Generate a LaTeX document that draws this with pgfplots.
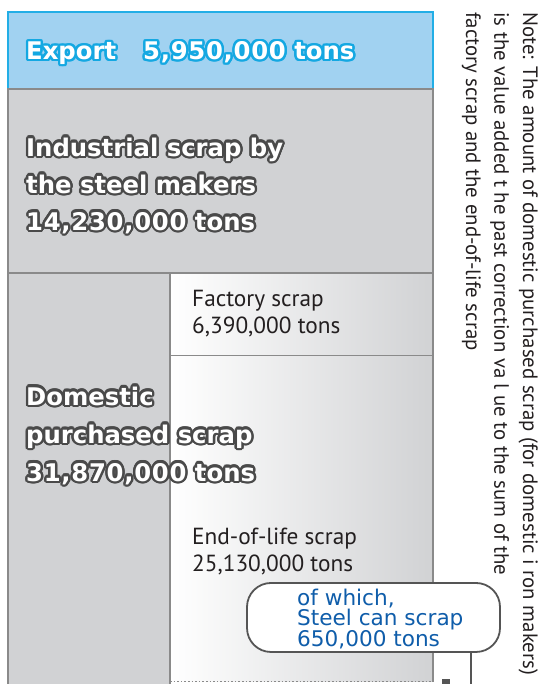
\documentclass[border=0pt]{standalone}
\usepackage{pgfplots}
\pgfplotsset{compat=1.18}
\usepackage{fontspec}
\setmainfont{PT Sans}
\newfontfamily\hd{DejaVu Sans}
\newfontfamily\hdn{DejaVu Sans}[LetterSpace=3]
\newfontfamily\cf{DejaVu Sans}
\definecolor{exportfill}{HTML}{A1D2F1}
\definecolor{exportline}{HTML}{22AEE6}
\definecolor{exportol}{HTML}{14A8E2}
\definecolor{greyfill}{HTML}{D1D2D4}
\definecolor{greyline}{HTML}{8A8A8A}
\definecolor{greyol}{HTML}{4A4A4A}
\definecolor{callline}{HTML}{555555}
\definecolor{bluetext}{HTML}{0F5DAA}
\definecolor{notetext}{HTML}{231F20}
\newcommand\ofs[4]{\rlap{\kern#1\raisebox{#2}{\textcolor{#3}{#4}}}}
\newcommand\ol[3]{%
\ofs{2.4pt}{0pt}{#1}{#3}\ofs{2.22pt}{0.92pt}{#1}{#3}\ofs{1.7pt}{1.7pt}{#1}{#3}\ofs{0.92pt}{2.22pt}{#1}{#3}%
\ofs{0pt}{2.4pt}{#1}{#3}\ofs{-0.92pt}{2.22pt}{#1}{#3}\ofs{-1.7pt}{1.7pt}{#1}{#3}\ofs{-2.22pt}{0.92pt}{#1}{#3}%
\ofs{-2.4pt}{0pt}{#1}{#3}\ofs{-2.22pt}{-0.92pt}{#1}{#3}\ofs{-1.7pt}{-1.7pt}{#1}{#3}\ofs{-0.92pt}{-2.22pt}{#1}{#3}%
\ofs{0pt}{-2.4pt}{#1}{#3}\ofs{0.92pt}{-2.22pt}{#1}{#3}\ofs{1.7pt}{-1.7pt}{#1}{#3}\ofs{2.22pt}{-0.92pt}{#1}{#3}%
\textcolor{#2}{#3}}
\begin{document}
\begin{tikzpicture}
\begin{axis}[scale only axis, width=539pt, height=684pt, at={(0,0)}, anchor=south west,
  xmin=0, xmax=539, ymin=-0.9266, ymax=51.892, y dir=reverse, hide axis]
% blocks (values in million tons, stacked from the top)
% Export 5.95
\addplot[fill=exportfill, draw=exportline, line width=1.8pt] coordinates {(8,0) (433,0) (433,5.95) (8,5.95)} -- cycle;
% Industrial scrap by the steel makers 14.23
\addplot[fill=greyfill, draw=greyline, line width=1.8pt] coordinates {(8,5.95) (433,5.95) (433,20.18) (8,20.18)} -- cycle;
% Domestic purchased scrap 31.87
\addplot[fill=greyfill, draw=greyline, line width=1.8pt] coordinates {(8,20.18) (170,20.18) (170,52.05) (8,52.05)} -- cycle;
% Factory scrap 6.39
\addplot[left color=white, right color=greyfill, draw=greyline, line width=1.8pt] coordinates {(170,20.18) (433,20.18) (433,26.57) (170,26.57)} -- cycle;
% End-of-life scrap 25.13
\addplot[left color=white, right color=greyfill, draw=none] coordinates {(170,26.57) (433,26.57) (433,51.70) (170,51.70)} -- cycle;
\addplot[draw=greyline, line width=1.8pt] coordinates {(170,26.57) (170,52.05)};
\addplot[draw=greyline, line width=1.8pt] coordinates {(433,26.57) (433,51.70)};
\addplot[draw=greyline, line width=1.6pt, dotted] coordinates {(170,51.70) (433,51.70)};
\addplot[draw=none, fill=callline] coordinates {(442,51.51) (450,51.51) (450,51.892) (442,51.892)} -- cycle;
% callout
\draw[callline, line width=1.8pt] (axis cs:471,49.42) -- (axis cs:471,51.892);
\draw[callline, line width=1.8pt, fill=white, rounded corners=24pt] (axis cs:247,44.09) rectangle (axis cs:500,49.42);
\node[anchor=west, align=left, inner sep=0pt, text=bluetext, font=\cf\fontsize{21.6}{20.8}\selectfont] at (axis cs:297,46.87) {of which,\\Steel can scrap\\650,000 tons};
% labels
\node[anchor=west, inner sep=0pt, font=\hd\bfseries\fontsize{24.3}{37}\selectfont] at (axis cs:26,3.17) {\ol{exportol}{white}{Export\hspace{27pt}{\hdn\bfseries 5,950,000} tons}};
\node[anchor=west, align=left, inner sep=0pt, font=\hd\bfseries\fontsize{24.3}{37}\selectfont] at (axis cs:26,13.4) {\ol{greyol}{white}{Industrial scrap by}\\\ol{greyol}{white}{the steel makers}\\\ol{greyol}{white}{{\hdn\bfseries 14,230,000} tons}};
\node[anchor=west, align=left, inner sep=0pt, font=\hd\bfseries\fontsize{24.3}{38}\selectfont] at (axis cs:26,32.71) {\ol{greyol}{white}{Domestic}\\\ol{greyol}{white}{purchased scrap}\\\ol{greyol}{white}{{\hdn\bfseries 31,870,000} tons}};
\node[anchor=west, align=left, inner sep=0pt, text=notetext, font=\fontsize{23.3}{27}\selectfont] at (axis cs:192,23.3) {Factory scrap\\6,390,000 tons};
\node[anchor=west, align=left, inner sep=0pt, text=notetext, font=\fontsize{23.3}{27}\selectfont] at (axis cs:192,41.65) {End-of-life scrap\\25,130,000 tons};
\node[rotate=-90, anchor=north west, align=left, inner sep=0pt, text=notetext, font=\fontsize{20.8}{28.5}\selectfont] at (axis cs:538,0.0) {Note: The amount of domestic purchased scrap (for domestic i ron makers)\\is the value added t he past correction va l ue to the sum of the\\factory scrap and the end-of-life scrap};
\end{axis}
\pgfresetboundingbox
\path[use as bounding box] (0,0) rectangle (539pt,684pt);
\end{tikzpicture}
\end{document}
